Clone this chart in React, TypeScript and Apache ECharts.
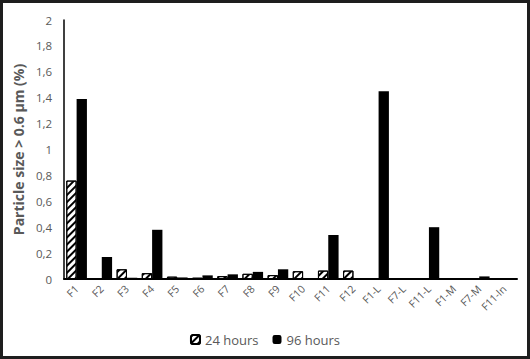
import React, { useEffect, useRef } from "react";
import * as echarts from "echarts";

const categories = ["F1", "F2", "F3", "F4", "F5", "F6", "F7", "F8", "F9", "F10", "F11", "F12", "F1-L", "F7-L", "F11-L", "F1-M", "F7-M", "F11-In"];
const hours24 = [0.76, 0, 0.075, 0.045, 0.018, 0.01, 0.022, 0.04, 0.03, 0.06, 0.065, 0.065, 0, 0, 0, 0, 0, 0];
const hours96 = [1.39, 0.17, 0.01, 0.38, 0.012, 0.028, 0.036, 0.055, 0.075, 0, 0.34, 0, 1.45, 0, 0.4, 0.006, 0.02, 0];
const yTicks = { min: 0, max: 2, interval: 0.2 };

export default function App() {
  const ref = useRef<HTMLDivElement>(null);
  useEffect(() => {
    const chart = echarts.init(ref.current!, null, { renderer: "svg" });
    const font = "'Open Sans', 'DejaVu Sans', sans-serif";
    chart.setOption({
      animation: false,
      backgroundColor: "#ffffff",
      textStyle: { fontFamily: font },
      grid: { left: 60, right: 10, top: 17, bottom: 77, containLabel: false },
      legend: {
        bottom: 5,
        left: "center",
        itemWidth: 9,
        itemHeight: 9,
        itemGap: 14,
        textStyle: { fontSize: 13, color: "#595959", fontFamily: font },
        data: ["24 hours", "96 hours"],
      },
      xAxis: {
        type: "category",
        data: categories,
        axisLine: { lineStyle: { color: "#000", width: 2 } },
        axisTick: { show: false },
        axisLabel: { rotate: 45, fontSize: 10.5, color: "#595959", interval: 0, margin: 8 },
      },
      yAxis: {
        type: "value",
        min: yTicks.min,
        max: yTicks.max,
        interval: yTicks.interval,
        name: "Particle size > 0.6 µm (%)",
        nameLocation: "middle",
        nameGap: 33,
        nameTextStyle: { fontSize: 14, fontWeight: "bold", color: "#595959" },
        splitLine: { show: false },
        axisLine: { show: true, lineStyle: { color: "#000", width: 1.5 } },
        axisTick: { show: false },
        axisLabel: {
          fontSize: 11.5,
          color: "#595959",
          margin: 12,
          formatter: (v: number) => String(Math.round(v * 10) / 10).replace(".", ","),
        },
      },
      series: [
        {
          name: "24 hours",
          type: "bar",
          data: hours24,
          barGap: "0%",
          barCategoryGap: "18%",
          itemStyle: {
            color: "#ffffff",
            borderColor: "#000",
            borderWidth: 1,
            decal: {
              symbol: "rect",
              symbolSize: 1,
              color: "#000",
              dashArrayX: [1, 0],
              dashArrayY: [1.5, 2.5],
              rotation: -Math.PI / 4,
            },
          },
        },
        {
          name: "96 hours",
          type: "bar",
          data: hours96,
          itemStyle: { color: "#000" },
        },
      ],
    });
    return () => chart.dispose();
  }, []);
  return (
    <div
      style={{
        position: "fixed",
        left: 0,
        top: 0,
        width: 530,
        height: 359,
        boxSizing: "border-box",
        border: "3px solid #1e1e1e",
        background: "#fff",
      }}
    >
      <div ref={ref} style={{ width: 524, height: 353 }} />
    </div>
  );
}
